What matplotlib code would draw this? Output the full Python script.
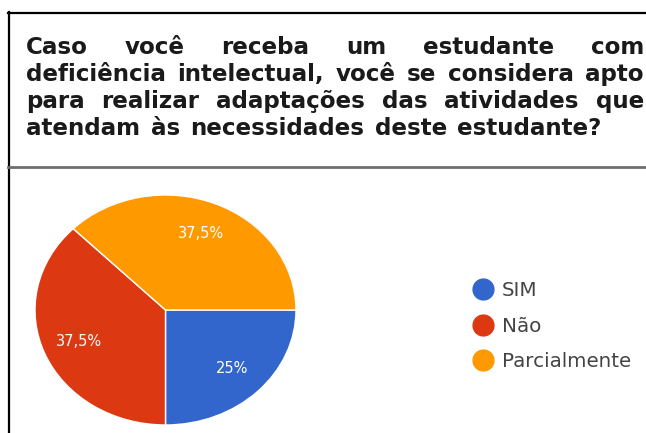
import matplotlib
matplotlib.use('Agg')
import matplotlib.pyplot as plt
from matplotlib.lines import Line2D

# survey answers
labels = ['SIM', 'Não', 'Parcialmente']
values = [25.0, 37.5, 37.5]
colors = ['#3366cc', '#dc3912', '#ff9900']

title_lines = [
    'Caso você receba um estudante com',
    'deficiência intelectual, você se considera apto',
    'para realizar adaptações das atividades que',
    'atendam às necessidades deste estudante?',
]

W, H = 646, 433
fig = plt.figure(figsize=(W / 100, H / 100), dpi=100)
fig.patch.set_facecolor('white')

# frame lines (pixel coords, y from top)
def px_line(x0, y0, x1, y1, color, lw):
    fig.add_artist(Line2D([x0 / W, x1 / W], [1 - y0 / H, 1 - y1 / H],
                          color=color, lw=lw, transform=fig.transFigure))

px_line(8, 12.5, W, 12.5, 'black', 1.6)
px_line(8.5, 12, 8.5, H, 'black', 1.6)
px_line(8, 166.5, W, 166.5, '#6e6e6e', 2.0)

# justified title, word by word
fig.canvas.draw()
renderer = fig.canvas.get_renderer()
tfont = dict(family='DejaVu Sans', weight='bold', size=16.6, color='#1a1a1a')
x_left, x_right = 26, 644
baselines = [54, 81, 108, 135]
for i, line in enumerate(title_lines):
    words = line.split()
    y = 1 - baselines[i] / H
    arts = [fig.text(0, y, w, va='baseline', ha='left', **tfont) for w in words]
    widths = [a.get_window_extent(renderer).width for a in arts]
    if i < len(title_lines) - 1:
        gap = (x_right - x_left - sum(widths)) / (len(words) - 1)
    else:
        gap = 0.45 * tfont['size'] * 100 / 72
    x = x_left
    for a, w in zip(arts, widths):
        a.set_x(x / W)
        x += w + gap

# pie
cx, cy, rx, ry = 165.5, 310, 130.5, 115
ax = fig.add_axes([(cx - rx) / W, 1 - (cy + ry) / H, 2 * rx / W, 2 * ry / H])
wedges, texts, autotexts = ax.pie(
    values, colors=colors, startangle=0, counterclock=False,
    autopct=lambda p: ('%.1f%%' % p).replace('.', ',').replace(',0%', '%'),
    pctdistance=0.72, wedgeprops=dict(edgecolor='white', linewidth=1.0),
    textprops=dict(color='white', fontsize=10.5, family='DejaVu Sans'))
ax.set_aspect('auto')
ax.set_xlim(-1, 1)
ax.set_ylim(-1, 1)

# legend
handles = [Line2D([], [], marker='o', ls='', markersize=15, markerfacecolor=c,
                  markeredgecolor=c) for c in colors]
fig.legend(handles, labels, loc='center left', bbox_to_anchor=(473 / W, 1 - 326 / H),
           frameon=False, labelcolor='#444444', handletextpad=0.45,
           labelspacing=0.85, handlelength=1.0, borderaxespad=0, borderpad=0,
           prop=dict(family='DejaVu Sans', size=14.3))

fig.savefig('out.png', dpi=100)
